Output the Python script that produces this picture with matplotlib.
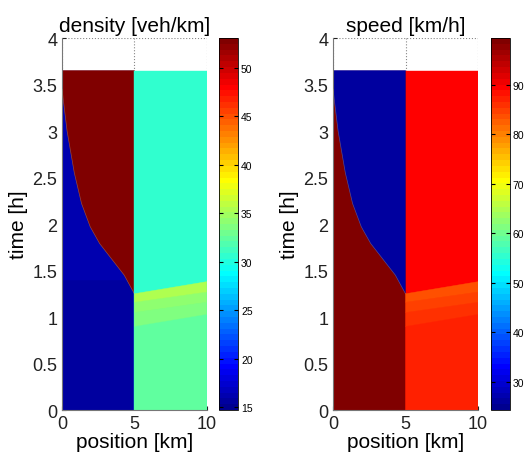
import numpy as np
import matplotlib
matplotlib.use('Agg')
import matplotlib.pyplot as plt
from matplotlib.colors import Normalize, ListedColormap
from matplotlib.cm import ScalarMappable

plt.rcParams['font.family'] = ['Liberation Sans', 'DejaVu Sans']

# road layout and simulated horizon
x_road = [0.0, 5.0, 10.0]     # km: start, bottleneck, end
t_end = 3.65                  # h

# jam tail (shock front)
shock_x = [5.0, 4.3, 3.4, 2.6, 1.95, 1.35, 0.85, 0.35, 0.0]
shock_t = [1.25, 1.45, 1.63, 1.79, 1.97, 2.22, 2.55, 3.00, 3.45]

# upstream free flow, horizontal bands
up_t = [0.0, 1.05, 1.40, t_end]
up_rho = [15.4, 15.8, 16.1]
up_v = [99.0, 99.0, 99.0]

# queue behind the bottleneck
jam_rho = 53.0
jam_v = 25.5

# downstream of the bottleneck
down_rho = 30.6
down_v = 90.0
fan_t5 = [0.0, 0.90, 1.05, 1.16, 1.25]     # band edges at x = 5
fan_t10 = [0.0, 1.03, 1.16, 1.27, 1.38]    # band edges at x = 10
fan_rho = [32.6, 33.5, 34.3, 35.2]
fan_v = [87.3, 85.4, 84.5, 83.5]

rho_lim = (14.7, 53.1)
v_lim = (24.3, 99.5)
rho_ticks = [15, 20, 25, 30, 35, 40, 45, 50]
v_ticks = [30, 40, 50, 60, 70, 80, 90]


def matlab_jet(n=64):
    x = np.arange(1, n + 1) / n
    r = np.clip(np.minimum(4 * x - 1.5, -4 * x + 4.5), 0, 1)
    g = np.clip(np.minimum(4 * x - 0.5, -4 * x + 3.5), 0, 1)
    b = np.clip(np.minimum(4 * x + 0.5, -4 * x + 2.5), 0, 1)
    return ListedColormap(np.column_stack([r, g, b]))


def panel(ax, cax, up, jam, down, fan, lim, ticks, title):
    cmap = matlab_jet()
    norm = Normalize(*lim)

    def fill(xs, ts, v):
        c = cmap(norm(v))
        ax.fill(xs, ts, facecolor=c, edgecolor=c, lw=0.3, zorder=2)

    x0, xm, x1 = x_road
    for i, v in enumerate(up):
        fill([x0, xm, xm, x0], [up_t[i], up_t[i], up_t[i + 1], up_t[i + 1]], v)
    fill(shock_x + [x0, xm], shock_t + [t_end, t_end], jam)
    ax.plot(shock_x, shock_t, color='#d8c890', lw=0.5, alpha=0.35, zorder=3)

    fill([xm, x1, x1, xm], [0, 0, t_end, t_end], down)
    for i, v in enumerate(fan):
        fill([xm, x1, x1, xm],
             [fan_t5[i], fan_t10[i], fan_t10[i + 1], fan_t5[i + 1]], v)

    ax.set_xlim(0, 10)
    ax.set_ylim(0, 4)
    ax.set_xticks([0, 5, 10])
    ax.set_yticks(np.arange(0, 4.01, 0.5))
    ax.set_yticklabels(['0', '0.5', '1', '1.5', '2', '2.5', '3', '3.5', '4'])
    ax.grid(True, ls=':', color='#888', lw=0.8, zorder=0)
    ax.set_axisbelow(True)
    for s in ['top', 'right']:
        ax.spines[s].set_visible(False)
    for s in ['left', 'bottom']:
        ax.spines[s].set_color('#777')
    ax.tick_params(labelsize=13, direction='in', length=3, colors='#222')
    ax.set_xlabel('position [km]', fontsize=15, labelpad=0)
    ax.set_ylabel('time [h]', fontsize=15, labelpad=3)
    ax.set_title(title, fontsize=15, pad=5)

    sm = ScalarMappable(norm=norm, cmap=cmap)
    cb = plt.colorbar(sm, cax=cax)
    cb.set_ticks(ticks)
    cax.tick_params(labelsize=7.5, direction='in', left=True, right=True,
                    length=3, pad=2)
    cb.outline.set_linewidth(0.6)


fig = plt.figure(figsize=(5.26, 4.6), dpi=100, facecolor='white')
ax1 = fig.add_axes([0.1179, 0.1065, 0.2751, 0.8087])
cax1 = fig.add_axes([0.4163, 0.1065, 0.0367, 0.8087])
ax2 = fig.add_axes([0.6331, 0.1065, 0.2757, 0.8087])
cax2 = fig.add_axes([0.9329, 0.1065, 0.0367, 0.8087])

panel(ax1, cax1, up_rho, jam_rho, down_rho, fan_rho, rho_lim, rho_ticks,
      'density [veh/km]')
panel(ax2, cax2, up_v, jam_v, down_v, fan_v, v_lim, v_ticks,
      'speed [km/h]')

fig.savefig('out.png', dpi=100, facecolor='white')
